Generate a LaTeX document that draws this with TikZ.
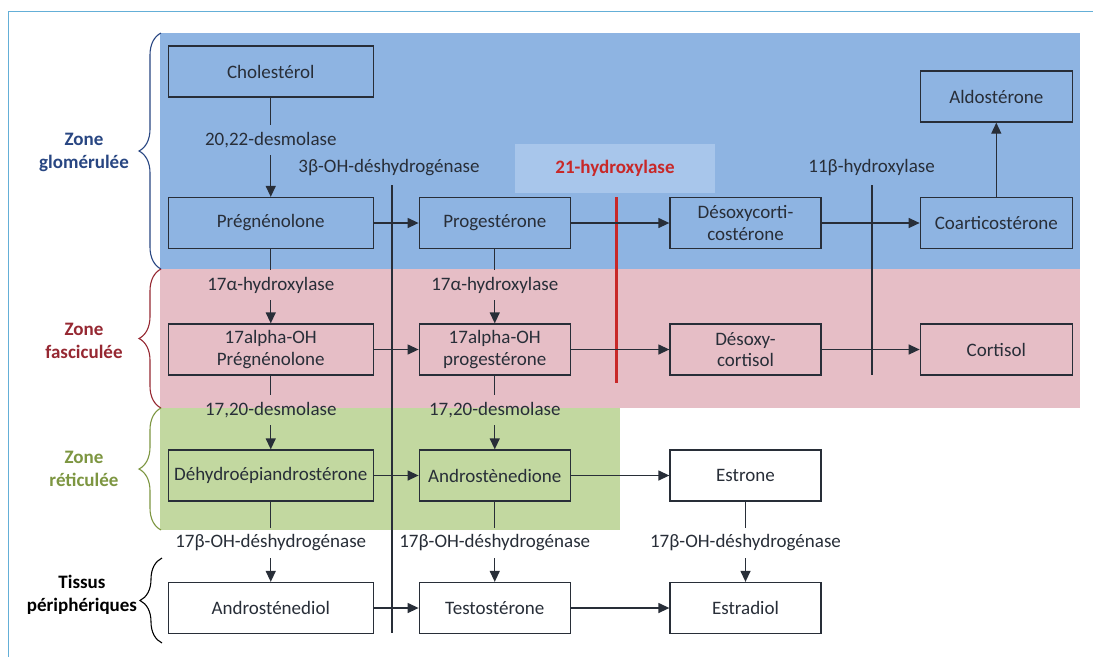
\documentclass[tikz,border=0pt]{standalone}
\usepackage{fontspec}
\setmainfont{Carlito}
\usetikzlibrary{arrows.meta,decorations.pathreplacing}
\definecolor{zblue}{RGB}{142,180,226}
\definecolor{zlight}{RGB}{168,198,235}
\definecolor{zpink}{RGB}{230,190,198}
\definecolor{zgreen}{RGB}{194,216,160}
\definecolor{boxline}{RGB}{40,46,56}
\definecolor{tblue}{RGB}{40,70,130}
\definecolor{tred}{RGB}{150,40,50}
\definecolor{tgreen}{RGB}{125,150,65}
\definecolor{hred}{RGB}{200,40,40}
\definecolor{frameblue}{RGB}{100,175,215}
\begin{document}
\begin{tikzpicture}[x=1pt,y=-1pt,
  stepbox/.style={draw=boxline,line width=1.3pt,inner sep=0pt,align=center,
    font=\fontsize{19}{21.5}\selectfont,text=boxline},
  wbox/.style={stepbox,minimum width=205pt,minimum height=51pt},
  nbox/.style={stepbox,minimum width=151pt,minimum height=51pt},
  enz/.style={inner sep=0pt,minimum height=30pt,font=\fontsize{19}{21.5}\selectfont,text=boxline},
  conn/.style={draw=boxline,line width=1.3pt},
  arr/.style={conn,-{Triangle[length=11pt,width=10pt]}},
  zonelab/.style={align=center,font=\bfseries\fontsize{19}{23}\selectfont},
  zbrace/.style={decorate,decoration={brace,amplitude=22pt},line width=1.1pt}
]
\useasboundingbox (0,0) rectangle (1093,657);
\fill[white] (0,0) rectangle (1093,657);
% frame
\draw[frameblue,line width=0.8pt] (1093,11) -- (8,11) -- (8,657);
% zones
\fill[zblue] (160,33) rectangle (1080,269);
\fill[zpink] (160,269) rectangle (1080,408);
\fill[zgreen] (160,408) rectangle (620,530);
\fill[zlight] (515,144) rectangle (715,193);

% braces and zone labels
\draw[zbrace,tblue] (161,269) -- (161,33);
\draw[zbrace,tred] (161,408) -- (161,269);
\draw[zbrace,tgreen] (161,530) -- (161,408);
\draw[zbrace,black] (162,643) -- (162,558);
\node[zonelab,text=tblue] (zg) at (84,152) {Zone\\glomérulée};
\node[zonelab,text=tred] (zf) at (84,341) {Zone\\fasciculée};
\node[zonelab,text=tgreen] (zr) at (84,469) {Zone\\réticulée};
\node[zonelab,text=black] (tp) at (82,595) {Tissus\\périphériques};

% boxes
\node[wbox] (chol) at (270.75,71.5) {Cholestérol};
\node[wbox] (preg) at (270.75,223) {Prégnénolone};
\node[wbox] (ohpreg) at (270.75,349.5) {17alpha-OH\\Prégnénolone};
\node[wbox] (dhea) at (270.75,475.5) {Déhydroépiandrostérone};
\node[wbox] (adiol) at (270.75,608) {Androsténediol};

\node[nbox] (prog) at (494.75,223) {Progestérone};
\node[nbox] (ohprog) at (494.75,349.5) {17alpha-OH\\progestérone};
\node[nbox] (adione) at (494.75,475.5) {Androstènedione};
\node[nbox] (testo) at (494.75,608) {Testostérone};

\node[nbox] (doc) at (745.5,223) {Désoxycorti-\\costérone};
\node[nbox] (dcort) at (745.5,349.5) {Désoxy-\\cortisol};
\node[nbox] (estrone) at (745.5,475.5) {Estrone};
\node[nbox] (estradiol) at (745.5,608) {Estradiol};

\node[nbox,minimum width=152pt] (aldo) at (996.3,96.5) {Aldostérone};
\node[nbox,minimum width=152pt] (coart) at (996.3,223) {Coarticostérone};
\node[nbox,minimum width=152pt] (cortisol) at (996.3,349.5) {Cortisol};

% enzyme labels
\node[enz] (e2022) at (270.75,140) {20,22-desmolase};
\node[enz] (e3b) at (389,168) {3β-OH-déshydrogénase};
\node[enz,text=hred,font=\bfseries\fontsize{19}{21.5}\selectfont] (e21) at (615,168) {21-hydroxylase};
\node[enz] (e11b) at (871.6,168) {11β-hydroxylase};
\node[enz] (e17a1) at (270.75,285) {17α-hydroxylase};
\node[enz] (e17a2) at (494.75,285) {17α-hydroxylase};
\node[enz] (e1720a) at (270.75,410) {17,20-desmolase};
\node[enz] (e1720b) at (494.75,410) {17,20-desmolase};
\node[enz] (e17b1) at (270.75,543) {17β-OH-déshydrogénase};
\node[enz] (e17b2) at (494.75,543) {17β-OH-déshydrogénase};
\node[enz] (e17b3) at (745.5,543) {17β-OH-déshydrogénase};

% blocking / enzyme lines
\coordinate (b3top) at (392,185);
\coordinate (b3bot) at (392,633);
\coordinate (b11top) at (872,185);
\coordinate (b11bot) at (872,375);
\coordinate (r21top) at (616,197);
\coordinate (r21bot) at (616,383);
\draw[conn] (b3top) -- (b3bot);
\draw[conn] (b11top) -- (b11bot);
\draw[hred,line width=3pt] (r21top) -- (r21bot);

% vertical connectors through enzyme labels
\draw[conn] (chol) -- (e2022);
\draw[arr] (e2022) -- (preg);
\draw[conn] (preg) -- (e17a1);
\draw[arr] (e17a1) -- (ohpreg);
\draw[conn] (prog) -- (e17a2);
\draw[arr] (e17a2) -- (ohprog);
\draw[conn] (ohpreg) -- (e1720a);
\draw[arr] (e1720a) -- (dhea);
\draw[conn] (ohprog) -- (e1720b);
\draw[arr] (e1720b) -- (adione);
\draw[conn] (dhea) -- (e17b1);
\draw[arr] (e17b1) -- (adiol);
\draw[conn] (adione) -- (e17b2);
\draw[arr] (e17b2) -- (testo);
\draw[conn] (estrone) -- (e17b3);
\draw[arr] (e17b3) -- (estradiol);
\draw[arr] (coart) -- (aldo);

% horizontal connectors
\draw[arr] (preg) -- (prog);
\draw[arr] (prog) -- (doc);
\draw[arr] (doc) -- (coart);
\draw[arr] (ohpreg) -- (ohprog);
\draw[arr] (ohprog) -- (dcort);
\draw[arr] (dcort) -- (cortisol);
\draw[arr] (dhea) -- (adione);
\draw[arr] (adione) -- (estrone);
\draw[arr] (adiol) -- (testo);
\draw[arr] (testo) -- (estradiol);
\end{tikzpicture}
\end{document}
